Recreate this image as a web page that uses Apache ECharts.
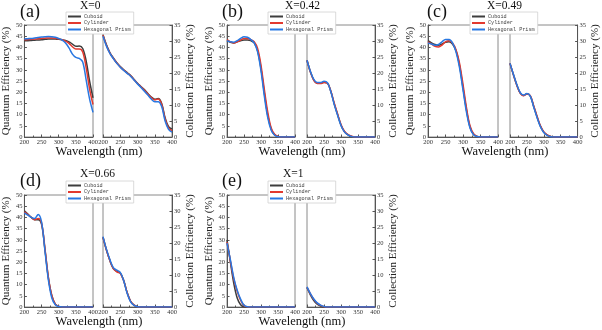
<!DOCTYPE html>
<html>
<head>
<meta charset="utf-8">
<script src="https://cdn.jsdelivr.net/npm/echarts@6.0.0/dist/echarts.min.js"></script>
<style>
  html, body { margin: 0; padding: 0; background: #fff; }
  #chart { width: 602px; height: 330px; }
</style>
</head>
<body>
<div id="chart"></div>
<script>
// wavelength grid (nm)
const wavelength = [200, 210, 220, 230, 240, 250, 260, 270, 280, 290, 300, 310, 320, 330, 340, 350, 360, 370, 380, 390, 400];
const shapes = ['Cuboid', 'Cylinder', 'Hexagonal Prism'];
const panelLabels = ['(a)', '(b)', '(c)', '(d)', '(e)'];
const panelTitles = ['X=0', 'X=0.42', 'X=0.49', 'X=0.66', 'X=1'];
const qeTicks = [0, 50, 5];
const ceTicks = [0, 35, 5];

// (a) X=0
const qeA_cuboid   = [43, 43, 43.1, 43.2, 43.3, 43.4, 43.6, 43.8, 43.8, 43.7, 43.6, 43.4, 43.1, 42.5, 41.5, 40.5, 40.6, 39.5, 34, 25, 17.5];
const qeA_cylinder = [43.4, 43.5, 43.6, 43.7, 43.9, 44, 44.1, 44.2, 44.2, 44, 43.8, 43.4, 42.8, 41.8, 40.3, 39.3, 39.3, 38, 31, 21.5, 14.5];
const qeA_hexagon  = [43.8, 43.9, 44, 44.2, 44.4, 44.6, 44.8, 44.9, 44.8, 44.5, 44, 43.3, 42, 39.8, 37, 35.5, 35.1, 33.5, 25.5, 17, 11];
const ceA_cuboid   = [32, 28.8, 26.4, 24.7, 23.2, 22, 21, 20.1, 19.2, 18, 16.8, 15.8, 14.8, 13.6, 12.5, 11.8, 12, 10.5, 6, 3.2, 2.5];
const ceA_cylinder = [31.8, 28.6, 26.2, 24.6, 23.1, 21.9, 20.9, 20, 19.1, 17.9, 16.7, 15.7, 14.6, 13.4, 12.3, 11.6, 11.9, 10.2, 5.6, 2.8, 2];
const ceA_hexagon  = [31.5, 28.4, 26.1, 24.5, 23, 21.8, 20.8, 19.9, 19, 17.8, 16.6, 15.5, 14.3, 13.1, 11.9, 11, 11, 9.5, 5, 2.4, 1.5];

// (b) X=0.42
const qeB_cuboid   = [43, 42.3, 42, 42.5, 43, 43.3, 43.3, 43, 42, 38.5, 30.5, 19.5, 9.5, 3.5, 1, 0.2, 0, 0, 0, 0, 0];
const qeB_cylinder = [43.5, 42.5, 42, 42.5, 43.3, 44, 44, 43.5, 42.5, 39.5, 32, 21, 11, 4, 1.2, 0.2, 0, 0, 0, 0, 0];
const qeB_hexagon  = [43, 42.5, 42.3, 43, 44, 44.7, 44.5, 43.5, 42, 38, 29.5, 18, 8.5, 3, 0.8, 0.1, 0, 0, 0, 0, 0];
const ceB_cuboid   = [24, 20.4, 17.8, 16.8, 16.8, 17.1, 16.9, 14.3, 10.4, 7, 3.7, 1.7, 0.7, 0.2, 0, 0, 0, 0, 0, 0, 0];
const ceB_cylinder = [24, 20.3, 17.7, 16.7, 16.7, 17, 16.8, 14.4, 10.6, 7.2, 3.9, 1.8, 0.8, 0.3, 0, 0, 0, 0, 0, 0, 0];
const ceB_hexagon  = [24, 20.5, 18, 17, 17, 17.4, 17, 14.2, 10.2, 6.8, 3.6, 1.6, 0.7, 0.2, 0, 0, 0, 0, 0, 0, 0];

// (c) X=0.49
const qeC_cuboid   = [43, 42, 41.3, 41, 41.5, 42.3, 42.5, 41.5, 38.5, 32, 22, 12, 4.5, 1.2, 0.2, 0, 0, 0, 0, 0, 0];
const qeC_cylinder = [42.5, 41.5, 40.5, 40.2, 41, 42.5, 43, 42, 39, 33, 23.5, 13, 5, 1.5, 0.3, 0, 0, 0, 0, 0, 0];
const qeC_hexagon  = [42, 41.5, 41, 41.3, 42.5, 43.5, 43.5, 42, 38, 31, 21, 11, 4, 1, 0.2, 0, 0, 0, 0, 0, 0];
const ceC_cuboid   = [23, 19.5, 16.3, 13.8, 13, 13.5, 12.8, 9.6, 6.3, 3.4, 1.5, 0.6, 0.2, 0, 0, 0, 0, 0, 0, 0, 0];
const ceC_cylinder = [23, 19.5, 16.2, 13.7, 12.9, 13.4, 12.9, 9.8, 6.5, 3.5, 1.6, 0.7, 0.2, 0, 0, 0, 0, 0, 0, 0, 0];
const ceC_hexagon  = [23, 19.6, 16.4, 13.9, 13.1, 13.6, 12.8, 9.4, 6.1, 3.2, 1.4, 0.5, 0.1, 0, 0, 0, 0, 0, 0, 0, 0];

// (d) X=0.66
const qeD_cuboid   = [43, 41.5, 40, 39, 39, 37, 25.5, 13, 5, 1.3, 0.3, 0, 0, 0, 0, 0, 0, 0, 0, 0, 0];
const qeD_cylinder = [42.5, 41.3, 40, 39, 39.5, 37.5, 26, 13, 5, 1.3, 0.3, 0, 0, 0, 0, 0, 0, 0, 0, 0, 0];
const qeD_hexagon  = [42, 41, 40, 39.5, 41.3, 38, 25, 12, 4, 1, 0.2, 0, 0, 0, 0, 0, 0, 0, 0, 0, 0];
const ceD_cuboid   = [21.8, 17.8, 14.5, 12, 11.1, 10.6, 8.3, 4.5, 1.8, 0.6, 0.1, 0, 0, 0, 0, 0, 0, 0, 0, 0, 0];
const ceD_cylinder = [21.8, 17.8, 14.5, 12, 11, 10.5, 8.2, 4.5, 1.8, 0.6, 0.1, 0, 0, 0, 0, 0, 0, 0, 0, 0, 0];
const ceD_hexagon  = [22, 18, 14.8, 12.3, 11.5, 10.8, 8.2, 4.3, 1.6, 0.5, 0.1, 0, 0, 0, 0, 0, 0, 0, 0, 0, 0];

// (e) X=1
const qeE_cuboid   = [30, 20, 10.5, 4, 1, 0.1, 0, 0, 0, 0, 0, 0, 0, 0, 0, 0, 0, 0, 0, 0, 0];
const qeE_cylinder = [29, 20.5, 12.5, 7, 3, 0.6, 0.1, 0, 0, 0, 0, 0, 0, 0, 0, 0, 0, 0, 0, 0, 0];
const qeE_hexagon  = [28.5, 21, 13, 7.5, 3.5, 0.8, 0.1, 0, 0, 0, 0, 0, 0, 0, 0, 0, 0, 0, 0, 0, 0];
const ceE_cuboid   = [6, 3.8, 2, 0.9, 0.3, 0, 0, 0, 0, 0, 0, 0, 0, 0, 0, 0, 0, 0, 0, 0, 0];
const ceE_cylinder = [6.2, 4.1, 2.4, 1.2, 0.5, 0.1, 0, 0, 0, 0, 0, 0, 0, 0, 0, 0, 0, 0, 0, 0, 0];
const ceE_hexagon  = [6.3, 4.2, 2.5, 1.3, 0.6, 0.2, 0, 0, 0, 0, 0, 0, 0, 0, 0, 0, 0, 0, 0, 0, 0];

const panelData = [
  { qe: [qeA_cuboid, qeA_cylinder, qeA_hexagon], ce: [ceA_cuboid, ceA_cylinder, ceA_hexagon] },
  { qe: [qeB_cuboid, qeB_cylinder, qeB_hexagon], ce: [ceB_cuboid, ceB_cylinder, ceB_hexagon] },
  { qe: [qeC_cuboid, qeC_cylinder, qeC_hexagon], ce: [ceC_cuboid, ceC_cylinder, ceC_hexagon] },
  { qe: [qeD_cuboid, qeD_cylinder, qeD_hexagon], ce: [ceD_cuboid, ceD_cylinder, ceD_hexagon] },
  { qe: [qeE_cuboid, qeE_cylinder, qeE_hexagon], ce: [ceE_cuboid, ceE_cylinder, ceE_hexagon] }
];

// layout (px): left plot, right plot, legend, text anchors
const layout = [
  { qe: [24, 25, 69, 112],  ce: [103, 25, 69, 112],  legend: [66, 12],   label: [20, 3],    title: [80, 0],    xname: [99, 145] },
  { qe: [227, 25, 68, 112], ce: [307, 25, 68, 112],  legend: [268, 12],  label: [222, 3],   title: [285, 0],   xname: [302, 145] },
  { qe: [428, 25, 70, 112], ce: [510, 25, 68, 112],  legend: [470, 12],  label: [427, 3],   title: [487, 0],   xname: [505, 145] },
  { qe: [24, 195, 69, 112], ce: [103, 195, 69, 112], legend: [66, 181],  label: [20, 172],  title: [80, 168],  xname: [99, 315] },
  { qe: [227, 195, 68, 112],ce: [307, 195, 68, 112], legend: [268, 181], label: [222, 172], title: [283, 168], xname: [302, 315] }
];

const colors = ['#3d3d3d', '#e2392f', '#2878e2'];
const serif = '"Liberation Serif", "Times New Roman", serif';
const axisColor = '#555';

const grids = [], xAxes = [], yAxes = [], series = [], legends = [], graphics = [];

function addGrid(box) {
  grids.push({
    left: box[0], top: box[1], width: box[2], height: box[3],
    show: true, borderColor: '#8a8a8a', borderWidth: 1, backgroundColor: 'transparent'
  });
  return grids.length - 1;
}

function xAxisFor(gi) {
  return {
    type: 'value', gridIndex: gi, min: 200, max: 400, interval: 50,
    axisLine: { show: true, lineStyle: { color: axisColor, width: 1 } },
    axisTick: { show: true, inside: true, length: 2.5, lineStyle: { color: axisColor } },
    minorTick: { show: true, splitNumber: 2, length: 1.5, lineStyle: { color: axisColor } },
    axisLabel: { fontFamily: serif, fontSize: 6.5, color: '#333', margin: 2 },
    splitLine: { show: false }
  };
}

function yAxisFor(gi, ticks, side, name, gap) {
  return {
    type: 'value', gridIndex: gi, position: side,
    min: ticks[0], max: ticks[1], interval: ticks[2],
    name: name, nameLocation: 'middle', nameGap: gap,
    nameTextStyle: { fontFamily: serif, fontSize: 11, color: '#222' },
    axisLine: { show: true, lineStyle: { color: axisColor, width: 1 } },
    axisTick: { show: true, inside: true, length: 2.5, lineStyle: { color: axisColor } },
    axisLabel: { fontFamily: serif, fontSize: 6.5, color: '#333', margin: 2 },
    splitLine: { show: false }
  };
}

panelData.forEach((pd, p) => {
  const lay = layout[p];
  const gq = addGrid(lay.qe);
  const gc = addGrid(lay.ce);
  xAxes.push(xAxisFor(gq));
  xAxes.push(xAxisFor(gc));
  yAxes.push(yAxisFor(gq, qeTicks, 'left', 'Quantum Efficiency (%)', 10));
  yAxes.push(yAxisFor(gc, ceTicks, 'right', 'Collection Efficiency (%)', 11));

  [[pd.qe, gq], [pd.ce, gc]].forEach(([sets, gi]) => {
    sets.forEach((vals, k) => {
      series.push({
        name: shapes[k], type: 'line',
        xAxisIndex: gi, yAxisIndex: gi,
        data: wavelength.map((w, i) => [w, vals[i]]),
        showSymbol: false, symbol: 'none', smooth: 0.35,
        lineStyle: { color: colors[k], width: 1.5 },
        itemStyle: { color: colors[k] },
        silent: true, animation: false
      });
    });
  });

  legends.push({
    data: shapes, orient: 'vertical', left: lay.legend[0], top: lay.legend[1],
    icon: 'rect', itemWidth: 13, itemHeight: 2, itemGap: 1.5,
    padding: [2, 3, 2, 2], backgroundColor: '#fff', borderColor: '#d0d0d0', borderWidth: 0.8,
    textStyle: { fontFamily: '"Liberation Mono", monospace', fontSize: 5.2, color: '#444', padding: [0, 0, 0, -2] },
    z: 10, selectedMode: false
  });

  graphics.push({
    type: 'text', x: lay.label[0], y: lay.label[1],
    style: { text: panelLabels[p], font: '18px ' + serif, fill: '#111', textAlign: 'left', textVerticalAlign: 'top' }
  });
  graphics.push({
    type: 'text', x: lay.title[0], y: lay.title[1],
    style: { text: panelTitles[p], font: '11.5px ' + serif, fill: '#111', textAlign: 'left', textVerticalAlign: 'top' }
  });
  graphics.push({
    type: 'text', x: lay.xname[0], y: lay.xname[1],
    style: { text: 'Wavelength (nm)', font: '12.5px ' + serif, fill: '#111', textAlign: 'center', textVerticalAlign: 'top' }
  });
});

const chart = echarts.init(document.getElementById('chart'), null, { renderer: 'canvas' });
chart.setOption({
  backgroundColor: '#fff',
  animation: false,
  grid: grids,
  xAxis: xAxes,
  yAxis: yAxes,
  legend: legends,
  series: series,
  graphic: graphics
});
</script>
</body>
</html>
